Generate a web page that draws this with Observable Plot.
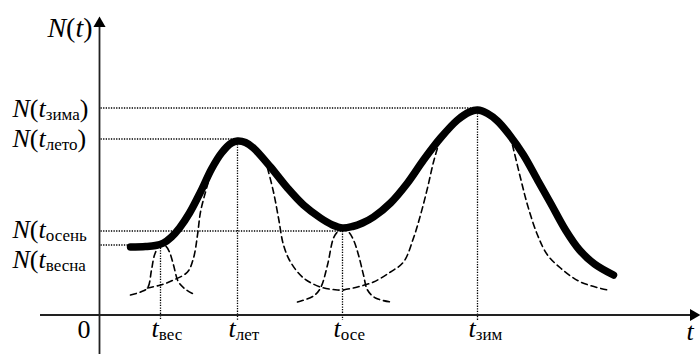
<!DOCTYPE html>
<html><head><meta charset="utf-8">
<script src="https://cdn.jsdelivr.net/npm/d3@7"></script>
<script src="https://cdn.jsdelivr.net/npm/@observablehq/plot@0.6"></script>
<style>html,body{margin:0;padding:0;background:#fff;} svg{display:block}
svg text{font-family:"Liberation Serif","Times New Roman",serif !important;}</style>
</head><body><div id="chart"></div>
<script>
// ---- data (t = time units, n = population units) ----
const seasonSub = ["вес", "лет", "осе", "зим"];
const seasonT = [61, 138, 243, 378];
const levelSub = ["весна", "лето", "осень", "зима"];
const levelN = [70, 176, 84, 207];
const levelTail = ["", ")", "", ")"];
const labelDy = [23, 8, 7, 9];

// total (thick) curve
const totalT = [31,46,56,64,72,80,90,101,112,122,132,138,146,154,171,188,204,221,233,243,253,263,274,291,308,324,341,358,370,378,388,398,410,424,438,451,466,480,495,514];
const totalN = [68,68.5,69.5,72,78,87,102,123,146,162,172,174,172.5,167,148,127,110,97,90,87,88.5,92,98,112,132,155,177,195,203,205,201.5,194,180,160,135,112,85,65,51,40];

// seasonal components (dashed)
const springT = [31,41,48,52,55,59,62,66,70,74,79,87,96];
const springN = [20,23,27,45,60,68,70,69,63,50,33,25,20];
const summerLeftT = [48,61,74,88,94,98,101,106,111,115];
const summerLeftN = [27,30,35,43,57,80,103,123,140,152];
const summerRightT = [168,174,179,184,191,204,221,238,244];
const summerRightN = [147,123,97,70,53,37,28,25,25];
const autumnT = [198,214,221,228,234,238,243,249,254,259,264,268,276,291];
const autumnN = [13,19,27,50,77,83,85,83,75,60,40,25,17,13];
const winterLeftT = [244,258,274,291,304,314,321,328,334,341];
const winterLeftN = [25,28,33,43,53,77,100,127,153,177];
const winterRightT = [413,421,428,438,448,461,481,508];
const winterRightN = [170,137,110,80,60,47,33,25];

// axes extents
const tAxis = [-59, 594];
const nAxis = [-39.5, 291.5];

// ---- tables ----
const total = totalT.map((t, i) => ({t, n: totalN[i]}));
const comps = [
  ["spring", springT, springN], ["summerL", summerLeftT, summerLeftN],
  ["summerR", summerRightT, summerRightN], ["autumn", autumnT, autumnN],
  ["winterL", winterLeftT, winterLeftN], ["winterR", winterRightT, winterRightN]
].flatMap(([k, T, N]) => T.map((t, i) => ({k, t, n: N[i]})));
const levels = levelN.map((n, i) => ({n, t: seasonT[i], label: "N(t" + levelSub[i] + levelTail[i], dy: labelDy[i]}));
const seasons = seasonT.map((t, i) => ({t, label: "t" + seasonSub[i]}));

const FONT = "Liberation Serif";
const dotted = {stroke: "#000", strokeWidth: 1.3, strokeDasharray: "1.3,1.3"};
const txt = {lineAnchor: "bottom", fontSize: 26, fontFamily: FONT, fill: "#000"};

const chart = Plot.plot({
  width: 700, height: 354,
  marginTop: 0, marginRight: 0, marginBottom: 0, marginLeft: 0,
  x: {domain: [-99, 601], axis: null},
  y: {domain: [-39.5, 314.5], axis: null},
  style: {fontFamily: FONT, background: "#fff", overflow: "visible"},
  marks: [
    // dotted guides
    Plot.link(levels, {x1: 1, x2: "t", y1: "n", y2: "n", ...dotted}),
    Plot.link(levels, {x1: "t", x2: "t", y1: "n", y2: -5, ...dotted}),
    // axes
    Plot.ruleY([0], {x1: tAxis[0], x2: tAxis[1] - 2, stroke: "#222", strokeWidth: 1.8}),
    Plot.ruleX([0], {y1: nAxis[0], y2: nAxis[1] - 2, stroke: "#222", strokeWidth: 1.8}),
    Plot.dot([{t: tAxis[1], n: 0}], {x: "t", y: "n", symbol: "triangle", r: 4.5, fill: "#000", stroke: "none", rotate: 90}),
    Plot.dot([{t: 0, n: nAxis[1]}], {x: "t", y: "n", symbol: "triangle", r: 4.5, fill: "#000", stroke: "none"}),
    // components
    Plot.line(comps, {x: "t", y: "n", z: "k", curve: "catmull-rom", stroke: "#000", strokeWidth: 1.6, strokeDasharray: "6,4"}),
    // total
    Plot.line(total, {x: "t", y: "n", curve: "catmull-rom", stroke: "#000", strokeWidth: 7.5, strokeLinejoin: "round"}),
    // labels (1 unit of n = 1 px, so the label offset is subtracted in data units)
    Plot.text(levels, {x: -87, y: d => d.n - d.dy, text: "label", textAnchor: "start", ...txt}),
    Plot.text(seasons, {x: "t", y: -22, dx: -9, text: "label", textAnchor: "start", ...txt}),
    Plot.text(["N(t)"], {x: -7, y: 278, text: d => d, textAnchor: "end", ...txt, fontSize: 28}),
    Plot.text(["0"], {x: -9, y: -23, text: d => d, textAnchor: "end", ...txt}),
    Plot.text(["t"], {x: 587, y: -25, text: d => d, textAnchor: "start", fontStyle: "italic", ...txt})
  ]
});
document.getElementById("chart").appendChild(chart);

// italic letters and subscripts
const NS = "http://www.w3.org/2000/svg";
chart.querySelectorAll("text").forEach(el => {
  el.style.fontFamily = "'Liberation Serif', serif";
  const s = el.textContent;
  el.style.fontSize = s === "N(t)" ? "28px" : "26px";
  const m = s.match(/^(N?)(\(?)(t)([а-яё]*)(\)?)$/);
  if (!m) return;
  el.textContent = "";
  const add = (txt, o = {}) => {
    const ts = document.createElementNS(NS, "tspan");
    ts.textContent = txt;
    if (o.italic) ts.setAttribute("font-style", "italic");
    if (o.size) ts.setAttribute("font-size", o.size);
    if (o.dy) ts.setAttribute("dy", o.dy);
    el.appendChild(ts);
  };
  if (m[1]) add("N", {italic: true});
  if (m[2]) add("(");
  add("t", {italic: true});
  if (m[4]) add(m[4], {size: 17, dy: 3});
  if (m[5]) add(")", {dy: m[4] ? -3 : 0});
});
</script></body></html>
